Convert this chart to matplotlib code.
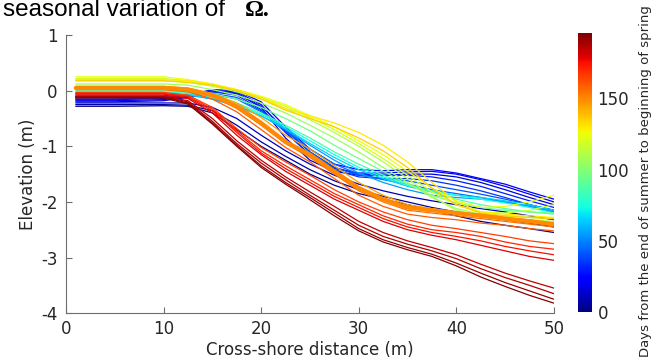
import numpy as np
import matplotlib
matplotlib.use("Agg")
import matplotlib.pyplot as plt
from matplotlib import cm, colors

plt.rcParams['axes.unicode_minus'] = False

distance = [1, 5, 10, 12.5, 15, 17.5, 20, 22.5, 25, 27.5, 30, 32.5, 35, 37.5, 40, 42.5, 45, 47.5, 50]

# days from the end of summer for each profile
days = [2, 6, 10,
        15, 20, 25, 30, 35, 40, 45,
        55, 65, 75, 85, 95,
        105, 112, 118, 125, 130, 135,
        145, 155, 160,
        165, 170, 175, 180,
        185, 188, 192, 195,
        150]

# elevation (m) of each profile, one row per entry of days
elevation = [
    [-0.28, -0.28, -0.27, -0.28, -0.40, -0.70, -1.00, -1.25, -1.50, -1.70, -1.85, -1.95, -2.05, -2.15, -2.25, -2.35, -2.42, -2.48, -2.55],
    [-0.25, -0.25, -0.25, -0.26, -0.36, -0.62, -0.92, -1.18, -1.42, -1.62, -1.78, -1.90, -2.00, -2.10, -2.18, -2.26, -2.32, -2.38, -2.45],
    [-0.22, -0.22, -0.22, -0.22, -0.30, -0.50, -0.80, -1.08, -1.32, -1.52, -1.68, -1.80, -1.90, -1.98, -2.05, -2.12, -2.18, -2.25, -2.32],
    [-0.20, -0.20, -0.18, -0.12, -0.02, -0.05, -0.30, -0.85, -1.25, -1.45, -1.52, -1.52, -1.50, -1.50, -1.55, -1.65, -1.78, -1.92, -2.05],
    [-0.18, -0.18, -0.16, -0.10, 0.00, -0.02, -0.25, -0.75, -1.15, -1.40, -1.48, -1.48, -1.46, -1.45, -1.50, -1.60, -1.72, -1.86, -2.00],
    [-0.16, -0.16, -0.14, -0.08, 0.02, 0.00, -0.20, -0.65, -1.05, -1.32, -1.42, -1.44, -1.42, -1.42, -1.48, -1.58, -1.68, -1.82, -1.95],
    [-0.15, -0.15, -0.13, -0.08, 0.00, -0.04, -0.28, -0.70, -1.10, -1.38, -1.50, -1.52, -1.52, -1.55, -1.62, -1.72, -1.85, -1.98, -2.10],
    [-0.13, -0.13, -0.12, -0.08, -0.02, -0.08, -0.34, -0.75, -1.15, -1.42, -1.55, -1.58, -1.58, -1.62, -1.70, -1.80, -1.92, -2.05, -2.15],
    [-0.12, -0.12, -0.11, -0.08, -0.05, -0.12, -0.36, -0.72, -1.10, -1.38, -1.52, -1.58, -1.62, -1.70, -1.78, -1.86, -1.95, -2.05, -2.15],
    [-0.10, -0.10, -0.10, -0.08, -0.06, -0.15, -0.38, -0.70, -1.05, -1.32, -1.50, -1.60, -1.68, -1.78, -1.85, -1.92, -2.00, -2.08, -2.18],
    [-0.05, -0.05, -0.05, -0.08, -0.15, -0.28, -0.45, -0.70, -0.98, -1.25, -1.48, -1.65, -1.78, -1.88, -1.92, -1.95, -2.00, -2.08, -2.18],
    [-0.04, -0.04, -0.04, -0.07, -0.14, -0.27, -0.45, -0.68, -0.95, -1.20, -1.42, -1.58, -1.72, -1.82, -1.88, -1.92, -1.98, -2.05, -2.15],
    [-0.02, -0.02, -0.02, -0.05, -0.12, -0.25, -0.42, -0.65, -0.90, -1.15, -1.38, -1.55, -1.70, -1.80, -1.88, -1.95, -2.02, -2.10, -2.20],
    [0.00, 0.00, 0.00, -0.03, -0.10, -0.22, -0.40, -0.62, -0.85, -1.10, -1.32, -1.52, -1.68, -1.82, -1.95, -2.05, -2.12, -2.18, -2.22],
    [0.05, 0.05, 0.05, 0.02, -0.05, -0.15, -0.30, -0.50, -0.72, -0.98, -1.22, -1.45, -1.68, -1.88, -2.02, -2.10, -2.15, -2.18, -2.20],
    [0.12, 0.12, 0.12, 0.10, 0.02, -0.08, -0.22, -0.40, -0.62, -0.85, -1.10, -1.38, -1.65, -1.92, -2.12, -2.22, -2.25, -2.28, -2.30],
    [0.18, 0.18, 0.18, 0.15, 0.08, -0.02, -0.15, -0.32, -0.52, -0.75, -1.00, -1.28, -1.58, -1.90, -2.15, -2.25, -2.30, -2.32, -2.35],
    [0.22, 0.22, 0.22, 0.18, 0.10, 0.00, -0.12, -0.28, -0.48, -0.70, -0.95, -1.22, -1.52, -1.82, -2.05, -2.18, -2.20, -2.15, -2.05],
    [0.25, 0.25, 0.25, 0.20, 0.12, 0.02, -0.10, -0.25, -0.45, -0.65, -0.90, -1.15, -1.45, -1.75, -1.98, -2.10, -2.08, -2.00, -1.88],
    [0.20, 0.20, 0.20, 0.18, 0.12, 0.02, -0.12, -0.32, -0.45, -0.58, -0.75, -0.98, -1.28, -1.65, -2.00, -2.18, -2.22, -2.25, -2.28],
    [0.18, 0.18, 0.18, 0.15, 0.10, 0.00, -0.15, -0.35, -0.50, -0.65, -0.85, -1.08, -1.38, -1.75, -2.05, -2.20, -2.25, -2.28, -2.30],
    [0.08, 0.08, 0.08, 0.05, -0.05, -0.22, -0.48, -0.80, -1.05, -1.35, -1.65, -1.88, -2.05, -2.12, -2.18, -2.22, -2.28, -2.32, -2.38],
    [0.03, 0.03, 0.03, 0.00, -0.10, -0.32, -0.62, -0.95, -1.20, -1.50, -1.80, -2.00, -2.15, -2.20, -2.25, -2.30, -2.35, -2.40, -2.45],
    [0.02, 0.02, 0.02, -0.02, -0.15, -0.38, -0.70, -1.02, -1.28, -1.58, -1.88, -2.08, -2.22, -2.28, -2.32, -2.38, -2.42, -2.48, -2.52],
    [-0.03, -0.03, -0.03, -0.08, -0.30, -0.68, -1.02, -1.28, -1.52, -1.78, -2.00, -2.18, -2.32, -2.42, -2.48, -2.55, -2.62, -2.70, -2.75],
    [-0.05, -0.05, -0.05, -0.10, -0.33, -0.72, -1.08, -1.35, -1.60, -1.85, -2.05, -2.25, -2.40, -2.50, -2.55, -2.62, -2.72, -2.80, -2.85],
    [-0.06, -0.06, -0.06, -0.12, -0.36, -0.75, -1.12, -1.40, -1.65, -1.90, -2.10, -2.30, -2.45, -2.55, -2.62, -2.70, -2.80, -2.88, -2.95],
    [-0.08, -0.08, -0.08, -0.14, -0.40, -0.80, -1.15, -1.45, -1.70, -1.95, -2.15, -2.35, -2.50, -2.60, -2.68, -2.78, -2.88, -2.98, -3.05],
    [-0.10, -0.10, -0.10, -0.18, -0.50, -0.90, -1.25, -1.55, -1.82, -2.08, -2.35, -2.55, -2.70, -2.82, -2.95, -3.12, -3.28, -3.42, -3.55],
    [-0.11, -0.11, -0.11, -0.20, -0.55, -0.95, -1.30, -1.60, -1.88, -2.15, -2.42, -2.62, -2.76, -2.88, -3.02, -3.20, -3.36, -3.50, -3.65],
    [-0.12, -0.12, -0.12, -0.22, -0.58, -0.98, -1.35, -1.65, -1.92, -2.20, -2.48, -2.68, -2.82, -2.94, -3.10, -3.28, -3.45, -3.60, -3.75],
    [-0.13, -0.13, -0.13, -0.24, -0.60, -1.00, -1.38, -1.68, -1.96, -2.25, -2.52, -2.72, -2.86, -2.98, -3.15, -3.35, -3.52, -3.68, -3.82],
    [0.05, 0.05, 0.05, 0.02, -0.08, -0.28, -0.58, -0.92, -1.15, -1.45, -1.75, -1.95, -2.10, -2.15, -2.20, -2.25, -2.30, -2.35, -2.40],
]

day_max = 196
grey = '#262626'

fig = plt.figure(figsize=(6.57, 3.62), dpi=100)
ax = fig.add_axes([0.1005, 0.135, 0.7425, 0.768])
cax = fig.add_axes([0.880, 0.138, 0.021, 0.771])

norm = colors.Normalize(vmin=0, vmax=day_max)
cmap = plt.get_cmap('jet')

n = len(days)
for i, (d, z) in enumerate(zip(days, elevation)):
    # last row is the bold orange profile drawn on top
    lw = 3.0 if i == n - 1 else 0.9
    ax.plot(distance, z, color=cmap(norm(d)), lw=lw, solid_capstyle='round')

ax.set_xlim(0, 50)
ax.set_ylim(-4, 1)
ax.set_xticks([0, 10, 20, 30, 40, 50])
ax.set_yticks([-4, -3, -2, -1, 0, 1])
for s in ['top', 'right']:
    ax.spines[s].set_visible(False)
for s in ['left', 'bottom']:
    ax.spines[s].set_color('#6e6e6e')
    ax.spines[s].set_linewidth(0.8)
ax.tick_params(direction='in', length=4, width=0.8, color='#6e6e6e',
               labelsize=12, labelcolor=grey)
ax.tick_params(axis='x', pad=5)
ax.tick_params(axis='y', pad=6)
ax.set_xlabel('Cross-shore distance (m)', fontsize=12, color=grey, labelpad=2)
ax.set_ylabel('Elevation (m)', fontsize=12, color=grey, labelpad=3)

cb = fig.colorbar(cm.ScalarMappable(norm=norm, cmap=cmap), cax=cax)
cb.outline.set_visible(False)
cb.set_ticks([0, 50, 100, 150])
cb.ax.tick_params(length=0, labelsize=12, labelcolor=grey, pad=4)
fig.text(0.983, 0.5, 'Days from the end of summer to beginning of spring',
         rotation=90, ha='center', va='center', fontsize=9.5, color=grey)

fig.text(0.005, 0.955, 'seasonal variation of', fontsize=17.5,
         family='Liberation Sans', color='black', va='baseline')
fig.text(0.372, 0.955, 'Ω.', fontsize=17, family='Liberation Serif',
         weight='bold', color='black', va='baseline')

fig.savefig('out.png', dpi=100)
